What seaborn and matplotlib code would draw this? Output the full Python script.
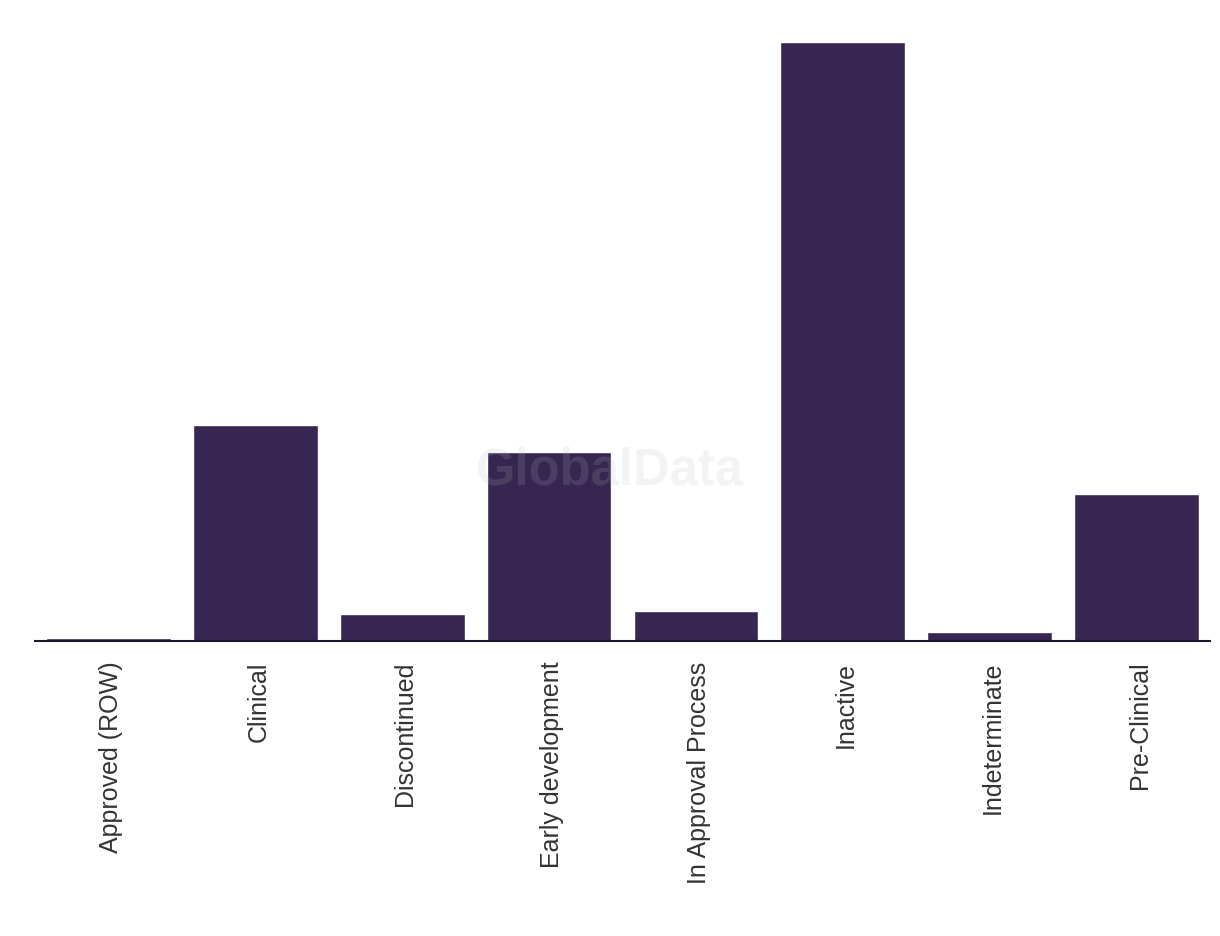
import matplotlib
matplotlib.use("Agg")
import matplotlib.pyplot as plt
import matplotlib.transforms as mtransforms
import seaborn as sns
import pandas as pd

categories = ["Approved (ROW)", "Clinical", "Discontinued", "Early development",
              "In Approval Process", "Inactive", "Indeterminate", "Pre-Clinical"]
counts = [1, 72, 9, 63, 10, 200, 3, 49]

sns.set_theme(style="white")
plt.rcParams['font.family'] = ['Liberation Sans', 'DejaVu Sans']

df = pd.DataFrame({"stage": categories, "count": counts})

fig = plt.figure(figsize=(12.2, 9.36), dpi=100)
ax = fig.add_axes([35/1220, 1-641/936, 1175/1220, (641-42)/936])
sns.barplot(data=df, x="stage", y="count", color="#372552", width=0.85,
            saturation=1, ax=ax)
ax.set_ylim(0, max(counts))
ax.set_xlim(-0.5, len(categories)-0.5)
ax.set_xlabel("")
ax.set_ylabel("")
ax.set_yticks([])
for s in ["top", "right", "left"]:
    ax.spines[s].set_visible(False)
ax.spines["bottom"].set_color("#1a1a2e")
ax.spines["bottom"].set_linewidth(1.5)
ax.tick_params(axis="x", length=0, pad=15, labelsize=18, labelcolor="#333333")
offset = mtransforms.ScaledTranslation(3/100, 0, fig.dpi_scale_trans)
for lbl in ax.get_xticklabels():
    lbl.set_rotation(90)
    lbl.set_va("top")
    lbl.set_ha("center")
    lbl.set_transform(lbl.get_transform() + offset)

fig.text(610/1220, 1-471/936, "GlobalData", ha="center", va="center",
         fontsize=36.5, fontweight="bold", color=(188/255, 188/255, 188/255),
         alpha=0.165, zorder=10)

fig.savefig("out.png", dpi=100, facecolor="white")
